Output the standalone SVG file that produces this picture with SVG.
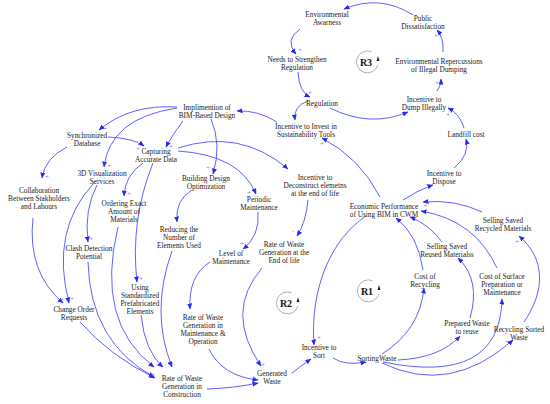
<svg xmlns="http://www.w3.org/2000/svg" width="550" height="404" viewBox="0 0 550 404">
<style>
.t{font-family:"Liberation Serif","Times New Roman",serif;font-size:7.3px;fill:#222;text-anchor:middle}
.c{fill:none;stroke:#4545ff;stroke-width:0.85;marker-end:url(#ah)}
.s{font-family:"Liberation Sans",Arial,sans-serif;font-size:6px;fill:#7b7bff;text-anchor:middle}
.lp{fill:none;stroke:#9a9a9a;stroke-width:0.8}
.lt{font-family:"Liberation Serif","Times New Roman",serif;font-size:10px;font-weight:bold;fill:#111;text-anchor:middle}
</style>
<defs>
<marker id="ah" markerUnits="userSpaceOnUse" markerWidth="6" markerHeight="5" refX="5.5" refY="2.5" orient="auto">
<path d="M0,0 L6,2.5 L0,5 z" fill="#2a2aee"/>
</marker>
</defs>
<rect width="550" height="404" fill="#fff"/>
<g id="connectors">
<path class="c" d="M413 15 Q380 -6 344 9"/>
<path class="c" d="M300 29 Q284 40 296 54"/>
<path class="c" d="M298 72 Q299 92 310 97"/>
<path class="c" d="M308 101 Q293 106 295 120"/>
<path class="c" d="M330 108 Q370 128 408 112"/>
<path class="c" d="M437 91 Q441 86 441 79"/>
<path class="c" d="M443 52 Q444 38 437 30"/>
<path class="c" d="M464 128 Q460 114 448 108"/>
<path class="c" d="M454 168 Q470 155 466 139"/>
<path class="c" d="M403 200 Q418 190 433 185"/>
<path class="c" d="M380 197 Q360 158 322 138"/>
<path class="c" d="M277 122 Q258 110 237 111"/>
<path class="c" d="M177 107 Q130 104 99 130"/>
<path class="c" d="M177 108 Q110 118 104 167"/>
<path class="c" d="M183 121 Q172 135 166 147"/>
<path class="c" d="M211 119 Q222 145 213 174"/>
<path class="c" d="M108 137 Q133 138 144 146"/>
<path class="c" d="M67 147 Q45 158 42 178"/>
<path class="c" d="M143 163 Q125 175 124 196"/>
<path class="c" d="M153 163 Q130 220 137 282"/>
<path class="c" d="M178 148 Q240 128 288 169"/>
<path class="c" d="M178 151 Q240 155 256 194"/>
<path class="c" d="M192 190 Q175 200 177 222"/>
<path class="c" d="M258 212 Q260 236 243 249"/>
<path class="c" d="M308 200 Q306 222 297 236"/>
<path class="c" d="M210 262 Q188 276 190 309"/>
<path class="c" d="M262 268 Q224 312 261 366"/>
<path class="c" d="M209 349 Q222 376 258 380"/>
<path class="c" d="M207 389 Q235 388 258 383"/>
<path class="c" d="M292 373 Q302 365 311 359"/>
<path class="c" d="M333 358 Q345 366 366 362"/>
<path class="c" d="M366 216 C330 240 310 290 314 345"/>
<path class="c" d="M382 354 Q420 330 424 288"/>
<path class="c" d="M423 270 Q418 235 396 218"/>
<path class="c" d="M442 242 Q430 225 410 217"/>
<path class="c" d="M497 268 Q475 220 421 211"/>
<path class="c" d="M482 212 Q455 199 423 202"/>
<path class="c" d="M398 360 Q440 358 460 336"/>
<path class="c" d="M470 318 Q481 280 458 258"/>
<path class="c" d="M383 362 Q500 386 502 299"/>
<path class="c" d="M382 363 Q450 396 513 340"/>
<path class="c" d="M524 322 C546 290 545 258 519 236"/>
<path class="c" d="M33 218 Q27 272 63 303"/>
<path class="c" d="M94 183 Q50 230 69 303"/>
<path class="c" d="M97 185 Q84 210 88 242"/>
<path class="c" d="M88 262 Q90 342 154 377"/>
<path class="c" d="M80 322 Q110 356 155 378"/>
<path class="c" d="M118 227 Q95 322 154 367"/>
<path class="c" d="M141 315 Q145 352 163 367"/>
<path class="c" d="M172 251 Q150 312 172 367"/>
</g>
<g id="polarities">
<text class="s" x="300" y="51">+</text>
<text class="s" x="310" y="94">+</text>
<text class="s" x="437" y="84">+</text>
<text class="s" x="436" y="37">+</text>
<text class="s" x="448" y="116">+</text>
<text class="s" x="426" y="186">-</text>
<text class="s" x="322" y="145">+</text>
<text class="s" x="105" y="129.5">+</text>
<text class="s" x="109" y="167">+</text>
<text class="s" x="171" y="148">+</text>
<text class="s" x="208" y="169">+</text>
<text class="s" x="138" y="150">+</text>
<text class="s" x="47" y="178">+</text>
<text class="s" x="129" y="195">+</text>
<text class="s" x="141" y="280">+</text>
<text class="s" x="249" y="194">+</text>
<text class="s" x="242" y="245">+</text>
<text class="s" x="293" y="233">-</text>
<text class="s" x="263" y="366">+</text>
<text class="s" x="254" y="379">+</text>
<text class="s" x="319" y="339">+</text>
<text class="s" x="425" y="207">+</text>
<text class="s" x="517" y="243">+</text>
<text class="s" x="507" y="343">+</text>
<text class="s" x="62" y="301">+</text>
<text class="s" x="72" y="300">+</text>
<text class="s" x="91" y="240">+</text>
<text class="s" x="157" y="366">-</text>
<text class="s" x="166" y="366">-</text>
<text class="s" x="174" y="366">-</text>
<text class="s" x="153" y="376">+</text>
</g>
<g id="loop-R3"><path class="lp" d="M371.6 51.7 A11 11 0 1 0 378 65"/><path d="M376.6 61 L379.4 61 L378 56 z" fill="#111"/><text class="lt" x="366" y="65.5">R3</text></g>
<g id="loop-R1"><path class="lp" d="M372.6 280.7 A11 11 0 1 0 379 294"/><path d="M377.6 290 L380.4 290 L379 285 z" fill="#111"/><text class="lt" x="367" y="294.5">R1</text></g>
<g id="loop-R2"><path class="lp" d="M291.6 292.7 A11 11 0 1 0 298 306"/><path d="M296.6 302 L299.4 302 L298 297 z" fill="#111"/><text class="lt" x="286" y="306.5">R2</text></g>
<g id="n1"><text class="t" x="327" y="16.5">Environmental<tspan x="327" dy="8.5">Awarness</tspan></text></g>
<g id="n2"><text class="t" x="423" y="20.5">Public<tspan x="423" dy="8.3">Dissatisfaction</tspan></text></g>
<g id="n3"><text class="t" x="297" y="61.5">Needs to Strengthen<tspan x="297" dy="8.2">Regulation</tspan></text></g>
<g id="n4"><text class="t" x="439" y="63.5">Environmental Repercussions<tspan x="439" dy="8.5">of Illegal Dumping</tspan></text></g>
<g id="n5"><text class="t" x="322" y="105.5">Regulation</text></g>
<g id="n6"><text class="t" x="424" y="101.5">Incentive to<tspan x="424" dy="8.5">Dump Illegally</tspan></text></g>
<g id="n7"><text class="t" x="306" y="128.5">Incentive to Invest in<tspan x="306" dy="8.2">Sustainability Tools</tspan></text></g>
<g id="n8"><text class="t" x="207" y="109.5">Implimention of<tspan x="207" dy="8.6">BIM-Based Design</tspan></text></g>
<g id="n9"><text class="t" x="466" y="136.5">Landfill cost</text></g>
<g id="n10"><text class="t" x="87" y="137.5">Synchronized<tspan x="87" dy="8.2">Database</tspan></text></g>
<g id="n11"><text class="t" x="156" y="153.5">Capturing<tspan x="156" dy="8.3">Accurate Data</tspan></text></g>
<g id="n12"><text class="t" x="444" y="175.5">Incentive to<tspan x="444" dy="8.5">Dispose</tspan></text></g>
<g id="n13"><text class="t" x="102" y="175.5">3D Visualization<tspan x="102" dy="8.2">Services</tspan></text></g>
<g id="n14"><text class="t" x="206" y="180.5">Building Design<tspan x="206" dy="8.2">Optimization</tspan></text></g>
<g id="n15"><text class="t" x="315" y="179.5">Incentive to<tspan x="315" dy="8.2">Deconstruct elemetns</tspan><tspan x="315" dy="8.4">at the end of life</tspan></text></g>
<g id="n16"><text class="t" x="39" y="192.5">Collaboration<tspan x="39" dy="8.3">Between Stakholders</tspan><tspan x="39" dy="8.4">and Labours</tspan></text></g>
<g id="n17"><text class="t" x="259" y="201.5">Periodic<tspan x="259" dy="8.2">Maintenance</tspan></text></g>
<g id="n18"><text class="t" x="384" y="208.5">Economic Performance<tspan x="384" dy="8.4">of Using BIM in CWM</tspan></text></g>
<g id="n19"><text class="t" x="503" y="222.5">Selling Saved<tspan x="503" dy="8.2">Recycled Materials</tspan></text></g>
<g id="n20"><text class="t" x="124" y="205.5">Ordering Exact<tspan x="124" dy="8.2">Amount of</tspan><tspan x="124" dy="8.2">Materials</tspan></text></g>
<g id="n21"><text class="t" x="179" y="231.5">Reducing the<tspan x="179" dy="8.2">Number of</tspan><tspan x="179" dy="8.2">Elements Used</tspan></text></g>
<g id="n22"><text class="t" x="284" y="246.5">Rate of Waste<tspan x="284" dy="8.3">Generation at the</tspan><tspan x="284" dy="8.3">End of life</tspan></text></g>
<g id="n23"><text class="t" x="231" y="255.5">Level of<tspan x="231" dy="8.4">Maintenance</tspan></text></g>
<g id="n24"><text class="t" x="447" y="248.5">Selling Saved<tspan x="447" dy="8.2">Reused Materialss</tspan></text></g>
<g id="n25"><text class="t" x="425" y="278.5">Cost of<tspan x="425" dy="8.2">Recycling</tspan></text></g>
<g id="n26"><text class="t" x="502" y="278.5">Cost of Surface<tspan x="502" dy="8.2">Preparation or</tspan><tspan x="502" dy="8.2">Maintenance</tspan></text></g>
<g id="n27"><text class="t" x="89" y="250.5">Clash Detection<tspan x="89" dy="8.4">Potential</tspan></text></g>
<g id="n28"><text class="t" x="140" y="289.5">Using<tspan x="140" dy="8.1">Standardized</tspan><tspan x="140" dy="8.2">Prefabricated</tspan><tspan x="140" dy="8.2">Elements</tspan></text></g>
<g id="n29"><text class="t" x="203" y="319.5">Rate of Waste<tspan x="203" dy="8.3">Generation in</tspan><tspan x="203" dy="8.3">Maintenance &amp;</tspan><tspan x="203" dy="8.3">Operation</tspan></text></g>
<g id="n30"><text class="t" x="74" y="311.5">Change Order<tspan x="74" dy="8.3">Requests</tspan></text></g>
<g id="n31"><text class="t" x="467" y="325.5">Prepared Waste<tspan x="467" dy="8.2">to reuse</tspan></text></g>
<g id="n32"><text class="t" x="519" y="331.5">Recycling Sorted<tspan x="519" dy="8.2">Waste</tspan></text></g>
<g id="n33"><text class="t" x="319" y="349.5">Incentive to<tspan x="319" dy="8.3">Sort</tspan></text></g>
<g id="n34"><text class="t" x="377" y="360.5">SortingWaste</text></g>
<g id="n35"><text class="t" x="272" y="375.5">Generated<tspan x="272" dy="8.5">Waste</tspan></text></g>
<g id="n36"><text class="t" x="182" y="380.5">Rate of Waste<tspan x="182" dy="8.1">Generation in</tspan><tspan x="182" dy="8.2">Construction</tspan></text></g>
</svg>
